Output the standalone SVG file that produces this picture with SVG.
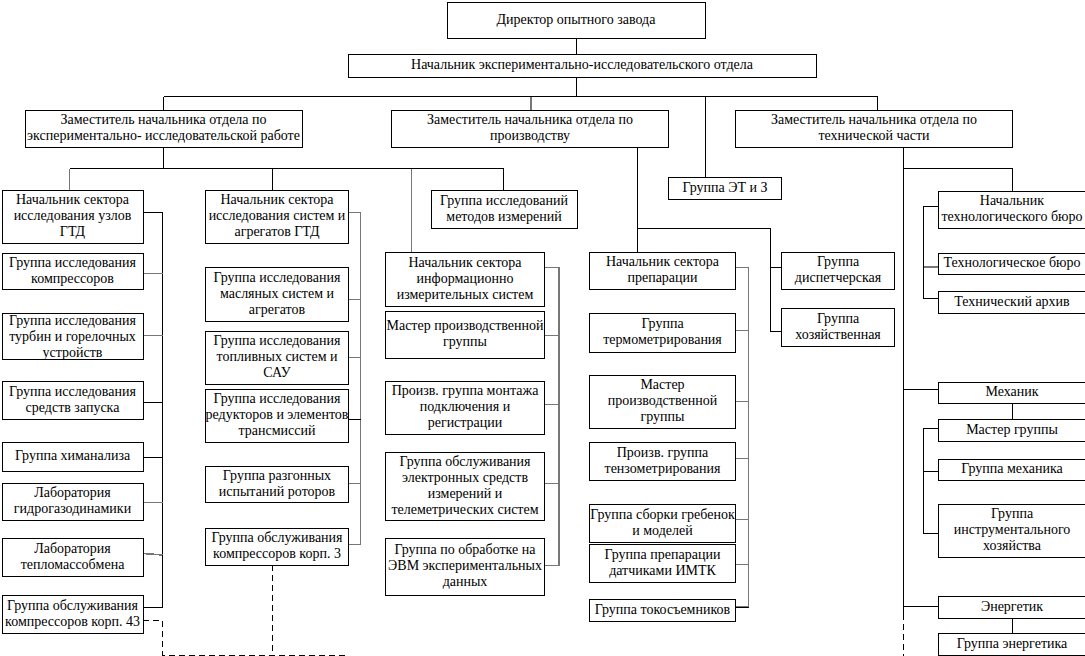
<svg xmlns="http://www.w3.org/2000/svg" width="1085" height="656" viewBox="0 0 1085 656">
<style>
rect{fill:#fff;stroke:#000;stroke-width:1;shape-rendering:crispEdges}
text{font-family:"Liberation Serif","Times New Roman",serif;font-size:14px;fill:#000;text-anchor:middle;transform:translateY(-1.5px)}
.c path{fill:none;stroke:#000;stroke-width:1;shape-rendering:crispEdges}
.c .g{stroke:#777;stroke-width:1.6}
.c .d{stroke-dasharray:6 4}
</style>
<rect x="0" y="0" width="1085" height="656" style="stroke:none"/>
<g class="c" id="connectors">
<path d="M576.5 38V54M576.5 77V96.5M163.5 96.5H877.5M163.5 96.5V110M705.5 96.5V177M877.5 96.5V110"/>
<path class="g" d="M531 96.5V110"/>
<path d="M163.5 147V168.5M69.5 168.5H503.5V190M272.5 168.5V190"/>
<path class="g" d="M69.5 168.5V190M411.5 168.5V252"/>
<path d="M143 212.5H162.5V607.5H143M143 402.5H162.5M143 457.5H162.5M143 607.5H162.5"/>
<path class="g" d="M143 273.5H162.5M143 335.5H162.5M143 502.5H162.5M143 553.5L162.5 555"/>
<path class="d" d="M143 620.5H162.5V655H348M272.5 565V655"/>
<path class="g" d="M348.5 212.5H360.5V544.5H348.5M348.5 299.5H360.5M348.5 357.5H360.5M348.5 483.5H360.5"/>
<path d="M348.5 419.5H360.5"/>
<path class="g" d="M544 267.5H559V565.5H544M544 335.5H559M544 404.5H559M544 483.5H559"/>
<path d="M637.5 147V252M637.5 228.5H770.5V331.5H781M770.5 267.5H781"/>
<path class="g" d="M735.5 267.5H748.5V607H735.5M735.5 330.5H748.5M735.5 401.5H748.5M735.5 458.5H748.5M735.5 519.5H748.5M735.5 564.5H748.5"/>
<path d="M735.5 607H748.5"/>
<path d="M903.5 147V620M903.5 168.5H1012.5V191M903.5 389.5H938M903.5 606.5H938M1012.5 403V419M1012.5 618V633"/>
<path class="d" d="M903.5 624V656"/>
<path d="M938 206.5H923.5V298.5H938M938 428.5H923.5V533.5H938M923.5 471.5H938"/>
<path class="g" d="M923.5 267H938"/>
</g>
<g id="director"><rect x="447.5" y="2.5" width="258" height="36"/><text x="576" y="25">Директор опытного завода</text></g>
<g id="head"><rect x="348.5" y="54.5" width="468" height="23"/><text x="582" y="70.5">Начальник экспериментально-исследовательского отдела</text></g>
<g id="dep1"><rect x="25.5" y="110.5" width="277" height="37"/><text x="163.5" y="125.5">Заместитель начальника отдела по</text><text x="163.5" y="141.5">экспериментально- исследовательской работе</text></g>
<g id="dep2"><rect x="391.5" y="110.5" width="277" height="37"/><text x="530" y="125.5">Заместитель начальника отдела по</text><text x="530" y="141.5">производству</text></g>
<g id="dep3"><rect x="735.5" y="110.5" width="277" height="37"/><text x="874" y="125.5">Заместитель начальника отдела по</text><text x="874" y="141.5">технической части</text></g>
<g id="etz"><rect x="668.5" y="177.5" width="113" height="22"/><text x="725" y="193">Группа ЭТ и З</text></g>
<g id="s1"><rect x="2.5" y="190.5" width="141" height="53"/><text x="72.5" y="205.5">Начальник сектора</text><text x="72.5" y="221.5">исследования узлов</text><text x="72.5" y="237.5">ГТД</text></g>
<g id="s1a"><rect x="2.5" y="253.5" width="141" height="36"/><text x="72.5" y="268">Группа исследования</text><text x="72.5" y="284">компрессоров</text></g>
<g id="s1b"><rect x="2.5" y="313.5" width="141" height="46"/><text x="72.5" y="326">Группа исследования</text><text x="72.5" y="342">турбин и горелочных</text><text x="72.5" y="358">устройств</text></g>
<g id="s1c"><rect x="2.5" y="381.5" width="141" height="38"/><text x="72.5" y="397">Группа исследования</text><text x="72.5" y="413">средств запуска</text></g>
<g id="s1d"><rect x="2.5" y="442.5" width="141" height="29"/><text x="72.5" y="461.5">Группа химанализа</text></g>
<g id="s1e"><rect x="2.5" y="483.5" width="141" height="37"/><text x="72.5" y="498.5">Лаборатория</text><text x="72.5" y="514.5">гидрогазодинамики</text></g>
<g id="s1f"><rect x="2.5" y="538.5" width="141" height="38"/><text x="72.5" y="554">Лаборатория</text><text x="72.5" y="570">тепломассобмена</text></g>
<g id="s1g"><rect x="2.5" y="595.5" width="141" height="38"/><text x="72.5" y="611">Группа обслуживания</text><text x="72.5" y="627">компрессоров корп. 43</text></g>
<g id="s2"><rect x="205.5" y="190.5" width="143" height="53"/><text x="277" y="205.5">Начальник сектора</text><text x="277" y="221.5">исследования систем и</text><text x="277" y="237.5">агрегатов ГТД</text></g>
<g id="s2a"><rect x="205.5" y="267.5" width="143" height="54"/><text x="277" y="283">Группа исследования</text><text x="277" y="299">масляных систем и</text><text x="277" y="315">агрегатов</text></g>
<g id="s2b"><rect x="205.5" y="331.5" width="143" height="53"/><text x="277" y="346.5">Группа исследования</text><text x="277" y="362.5">топливных систем и</text><text x="277" y="378.5">САУ</text></g>
<g id="s2c"><rect x="205.5" y="389.5" width="143" height="53"/><text x="277" y="404.5">Группа исследования</text><text x="277" y="420.5">редукторов и элементов</text><text x="277" y="436.5">трансмиссий</text></g>
<g id="s2d"><rect x="205.5" y="466.5" width="143" height="36"/><text x="277" y="481">Группа разгонных</text><text x="277" y="497">испытаний роторов</text></g>
<g id="s2e"><rect x="205.5" y="528.5" width="143" height="37"/><text x="277" y="543.5">Группа обслуживания</text><text x="277" y="559.5">компрессоров корп. 3</text></g>
<g id="gmi"><rect x="431.5" y="190.5" width="146" height="38"/><text x="504" y="206">Группа исследований</text><text x="504" y="222">методов измерений</text></g>
<g id="s3"><rect x="385.5" y="252.5" width="159" height="54"/><text x="465" y="268">Начальник сектора</text><text x="465" y="284">информационно</text><text x="465" y="300">измерительных систем</text></g>
<g id="s3a"><rect x="385.5" y="311.5" width="159" height="47"/><text x="465" y="331.5">Мастер производственной</text><text x="465" y="347.5">группы</text></g>
<g id="s3b"><rect x="385.5" y="381.5" width="159" height="53"/><text x="465" y="396.5">Произв. группа монтажа</text><text x="465" y="412.5">подключения и</text><text x="465" y="428.5">регистрации</text></g>
<g id="s3c"><rect x="385.5" y="452.5" width="159" height="68"/><text x="465" y="467">Группа обслуживания</text><text x="465" y="483">электронных средств</text><text x="465" y="499">измерений и</text><text x="465" y="515">телеметрических систем</text></g>
<g id="s3d"><rect x="385.5" y="538.5" width="159" height="57"/><text x="465" y="555.5">Группа по обработке на</text><text x="465" y="571.5">ЭВМ экспериментальных</text><text x="465" y="587.5">данных</text></g>
<g id="s4"><rect x="589.5" y="252.5" width="146" height="37"/><text x="662.5" y="267.5">Начальник сектора</text><text x="662.5" y="283.5">препарации</text></g>
<g id="s4a"><rect x="589.5" y="313.5" width="146" height="39"/><text x="662.5" y="329.5">Группа</text><text x="662.5" y="345.5">термометрирования</text></g>
<g id="s4b"><rect x="589.5" y="375.5" width="146" height="53"/><text x="662.5" y="390.5">Мастер</text><text x="662.5" y="406.5">производственной</text><text x="662.5" y="422.5">группы</text></g>
<g id="s4c"><rect x="589.5" y="442.5" width="146" height="38"/><text x="662.5" y="458">Произв. группа</text><text x="662.5" y="474">тензометрирования</text></g>
<g id="s4d"><rect x="589.5" y="504.5" width="146" height="38"/><text x="662.5" y="520">Группа сборки гребенок</text><text x="662.5" y="536">и моделей</text></g>
<g id="s4e"><rect x="589.5" y="544.5" width="146" height="38"/><text x="662.5" y="560">Группа препарации</text><text x="662.5" y="576">датчиками ИМТК</text></g>
<g id="s4f"><rect x="589.5" y="599.5" width="146" height="22"/><text x="662.5" y="615">Группа токосъемников</text></g>
<g id="disp"><rect x="781.5" y="252.5" width="113" height="37"/><text x="838" y="267.5">Группа</text><text x="838" y="283.5">диспетчерская</text></g>
<g id="hoz"><rect x="781.5" y="308.5" width="113" height="38"/><text x="838" y="324">Группа</text><text x="838" y="340">хозяйственная</text></g>
<g id="ntb"><rect x="938.5" y="191.5" width="150" height="37"/><text x="1012" y="206.5">Начальник</text><text x="1012" y="222.5">технологического бюро</text></g>
<g id="tb"><rect x="938.5" y="253.5" width="150" height="21"/><text x="1012" y="268.5">Технологическое бюро</text></g>
<g id="ta"><rect x="938.5" y="291.5" width="150" height="22"/><text x="1012" y="307">Технический архив</text></g>
<g id="mech"><rect x="938.5" y="382.5" width="150" height="21"/><text x="1012" y="397.5">Механик</text></g>
<g id="mg"><rect x="938.5" y="419.5" width="150" height="22"/><text x="1012" y="435">Мастер группы</text></g>
<g id="gm"><rect x="938.5" y="459.5" width="150" height="21"/><text x="1012" y="474.5">Группа механика</text></g>
<g id="gi"><rect x="938.5" y="504.5" width="150" height="53"/><text x="1012" y="519.5">Группа</text><text x="1012" y="535.5">инструментального</text><text x="1012" y="551.5">хозяйства</text></g>
<g id="en"><rect x="938.5" y="596.5" width="150" height="22"/><text x="1012" y="612">Энергетик</text></g>
<g id="ge"><rect x="938.5" y="633.5" width="150" height="22"/><text x="1012" y="649">Группа энергетика</text></g>
</svg>
